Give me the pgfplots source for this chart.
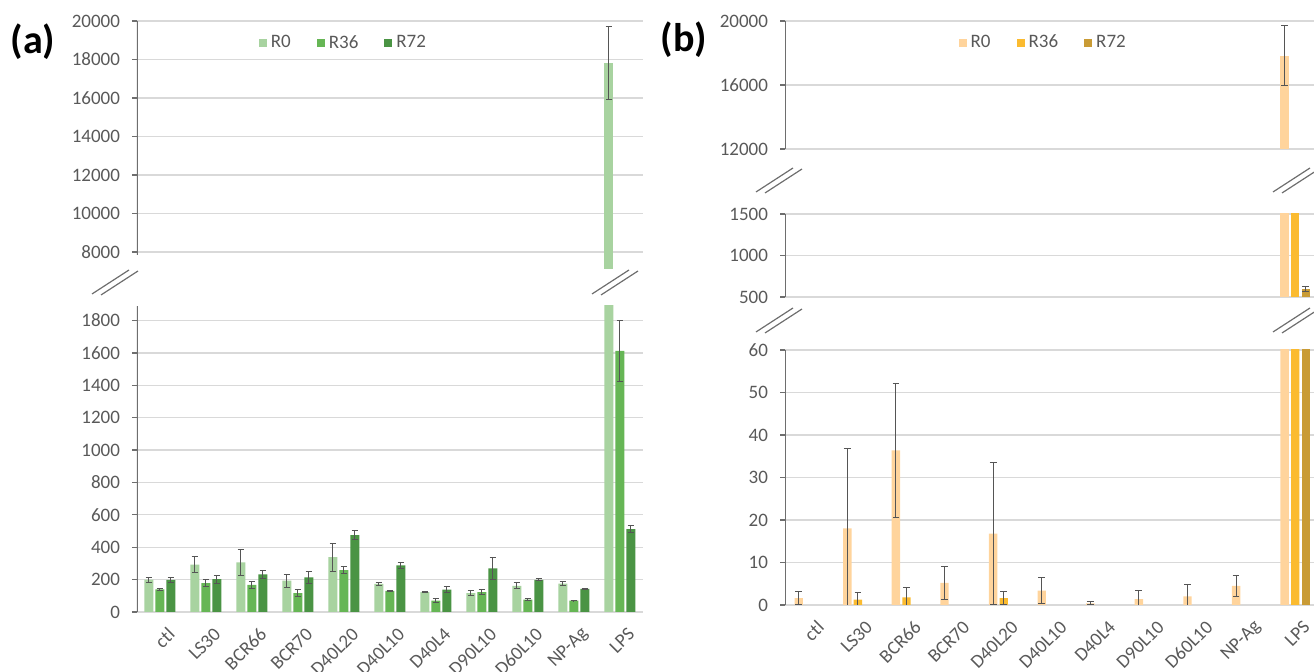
\documentclass[border=0pt]{standalone}
\usepackage{fontspec}
\setmainfont{Carlito}
\usepackage{pgfplots}
\usepackage{pgfplotstable}
\pgfplotsset{compat=1.18}
\definecolor{gA}{HTML}{A8D3A0}
\definecolor{gB}{HTML}{66B655}
\definecolor{gC}{HTML}{4A9444}
\definecolor{oA}{HTML}{FFD49C}
\definecolor{oB}{HTML}{FBBB30}
\definecolor{oC}{HTML}{C99B35}
\definecolor{tickgray}{HTML}{595959}
\definecolor{gridgray}{HTML}{D9D9D9}
\definecolor{errgray}{HTML}{555555}
\definecolor{axgray}{HTML}{6E6E6E}

\pgfplotstableread{
x R0 R0e R36 R36e R72 R72e
0 200 15 140 6 199 14
1 292 49 179 24 203 25
2 306 81 168 20 232 23
3 193 39 117 22 214 37
4 339 87 259 22 475 28
5 173 10 131 4 288 20
6 123 4 70 12 138 20
7 117 13 123 14 269 70
8 162 20 76 6 199 7
9 175 13 70 2 142 4
10 17800 1900 1613 189 512 20
}\dataA

\pgfplotstableread{
x R0 R0e R36 R36e R72 R72e
0 1.6 1.6 0 0 0 0
1 18.0 18.9 1.25 1.8 0 0
2 36.4 15.8 1.8 2.2 0 0
3 5.2 3.9 0 0 0 0
4 16.8 16.7 1.6 1.5 0 0
5 3.4 3.0 0 0 0 0
6 0.4 0.4 0 0 0 0
7 1.4 2.0 0 0 0 0
8 2.0 2.9 0 0 0 0
9 4.5 2.4 0 0 0 0
10 17840 1900 1800 0 596 35
}\dataB

\pgfplotsset{
  base/.style={
    scale only axis, ybar, xmin=-0.5, xmax=10.5,
    axis line style={draw=none},
    ymajorgrids, grid style={gridgray, line width=0.6pt},
    ytick pos=left, tick align=outside, major tick length=2.5pt,
    y tick style={axgray, line width=0.6pt},
    x tick style={draw=none},
    xtick={0,...,10}, xticklabels={},
    scaled y ticks=false,
    ticklabel style={font=\fontsize{9.5}{11}\selectfont, text=tickgray},
    /pgf/number format/assume math mode=true,
    /pgf/number format/1000 sep={},
    yticklabel style={xshift=-2.5pt},
    error bars/error bar style={errgray, line width=0.5pt},
    error bars/error mark options={rotate=90, errgray, mark size=1.7pt, line width=0.5pt},
    clip=true,
  },
  lbl/.style={
    xticklabels={ctl,LS30,BCR66,BCR70,D40L20,D40L10,D40L4,D90L10,D60L10,NP-Ag,LPS},
    xticklabel style={rotate=45, anchor=east, xshift=2.5pt, yshift=-9pt},
  },
  leg/.style={
    legend columns=3,
    legend style={draw=none, fill=none, font=\fontsize{9.5}{11}\selectfont, text=tickgray,
      /tikz/every even column/.append style={column sep=11pt}},
    legend image code/.code={\path[##1,draw=none] (0pt,-2pt) rectangle (4pt,2pt);},
  },
}

\newcommand{\plotA}{%
  \addplot[fill=gA, draw=none, bar width=4.5pt, bar shift=-5.5pt, forget plot,
    error bars/.cd, y dir=both, y explicit] table[x=x, y=R0, y error=R0e] {\dataA};
  \addplot[fill=gB, draw=none, bar width=4.5pt, bar shift=0pt, forget plot,
    error bars/.cd, y dir=both, y explicit] table[x=x, y=R36, y error=R36e] {\dataA};
  \addplot[fill=gC, draw=none, bar width=4.5pt, bar shift=5.5pt, forget plot,
    error bars/.cd, y dir=both, y explicit] table[x=x, y=R72, y error=R72e] {\dataA};
}
\newcommand{\plotB}{%
  \addplot[fill=oA, draw=none, bar width=4.2pt, bar shift=-5.3pt, forget plot,
    error bars/.cd, y dir=both, y explicit] table[x=x, y=R0, y error=R0e] {\dataB};
  \addplot[fill=oB, draw=none, bar width=4.2pt, bar shift=0pt, forget plot,
    restrict y to domain=0.001:10000000,
    error bars/.cd, y dir=both, y explicit] table[x=x, y=R36, y error=R36e] {\dataB};
  \addplot[fill=oC, draw=none, bar width=4.2pt, bar shift=5.3pt, forget plot,
    restrict y to domain=0.001:10000000,
    error bars/.cd, y dir=both, y explicit] table[x=x, y=R72, y error=R72e] {\dataB};
}

\begin{document}
\begin{tikzpicture}
\useasboundingbox (0,0) rectangle (657pt,336pt);

% ---------- panel (a) ----------
\begin{axis}[base, lbl, at={(68.5pt,30pt)}, anchor=south west,
  width=253pt, height=153pt, ymin=0, ymax=1890,
  ytick={0,200,...,1800}]
  \plotA
  \draw[axgray, line width=0.6pt] (rel axis cs:0,0) -- (rel axis cs:0,1);
\end{axis}

\begin{axis}[base, leg, at={(68.5pt,201.35pt)}, anchor=south west,
  width=253pt, height=124.15pt, ymin=7100, ymax=20000,
  ytick={8000,10000,...,20000}, restrict y to domain=7100:10000000,
  legend style={at={(0.41,0.91)}, anchor=center}]
  \addlegendimage{fill=gA, draw=none}
  \addlegendimage{fill=gB, draw=none}
  \addlegendimage{fill=gC, draw=none}
  \plotA
  \legend{R0,R36,R72}
  \draw[axgray, line width=0.6pt] (axis cs:-0.5,7850) -- (rel axis cs:0,1);
\end{axis}

% ---------- panel (b) ----------
\begin{axis}[base, lbl, at={(392.5pt,33.5pt)}, anchor=south west,
  width=264.5pt, height=127.5pt, xmax=10.385, ymin=0, ymax=60,
  ytick={0,10,...,60}, restrict y to domain*=-10:2000]
  \plotB
  \draw[axgray, line width=0.6pt] (rel axis cs:0,0) -- (rel axis cs:0,1);
\end{axis}

\begin{axis}[base, at={(392.5pt,187.5pt)}, anchor=south west,
  width=264.5pt, height=41.5pt, xmax=10.385, ymin=500, ymax=1500,
  ytick={500,1000,1500}, restrict y to domain=500:10000000]
  \plotB
  \draw[axgray, line width=0.6pt] (rel axis cs:0,0) -- (rel axis cs:0,1);
\end{axis}

\begin{axis}[base, leg, at={(392.5pt,261.5pt)}, anchor=south west,
  width=264.5pt, height=64pt, xmax=10.385, ymin=12000, ymax=20000,
  ytick={12000,16000,20000}, restrict y to domain=12000:10000000,
  legend style={at={(0.49,0.83)}, anchor=center}]
  \addlegendimage{fill=oA, draw=none}
  \addlegendimage{fill=oB, draw=none}
  \addlegendimage{fill=oC, draw=none}
  \plotB
  \legend{R0,R36,R72}
  \draw[axgray, line width=0.6pt] (rel axis cs:0,0) -- (rel axis cs:0,1);
\end{axis}

% ---------- break marks ----------
\begin{scope}[axgray, line width=0.6pt, x=0.5pt, y=-0.5pt, shift={(0pt,336pt)}]
  % (a)
  \draw (92,294) -- (129,270);  \draw (101,295) -- (138,271);
  \draw (592,294) -- (629,270); \draw (601,295) -- (638,271);
  % (b)
  \draw (756,192) -- (793,168); \draw (765,193) -- (802,169);
  \draw (1273,192) -- (1310,168); \draw (1282,193) -- (1319,169);
  \draw (756,332) -- (793,308); \draw (765,333) -- (802,309);
  \draw (1273,332) -- (1310,308); \draw (1282,333) -- (1319,309);
\end{scope}

% ---------- panel labels ----------
\node[font=\fontsize{20}{22}\selectfont\bfseries] at (16.5pt,315pt) {(a)};
\node[font=\fontsize{20}{22}\selectfont\bfseries] at (342pt,316pt) {(b)};
\end{tikzpicture}
\end{document}
